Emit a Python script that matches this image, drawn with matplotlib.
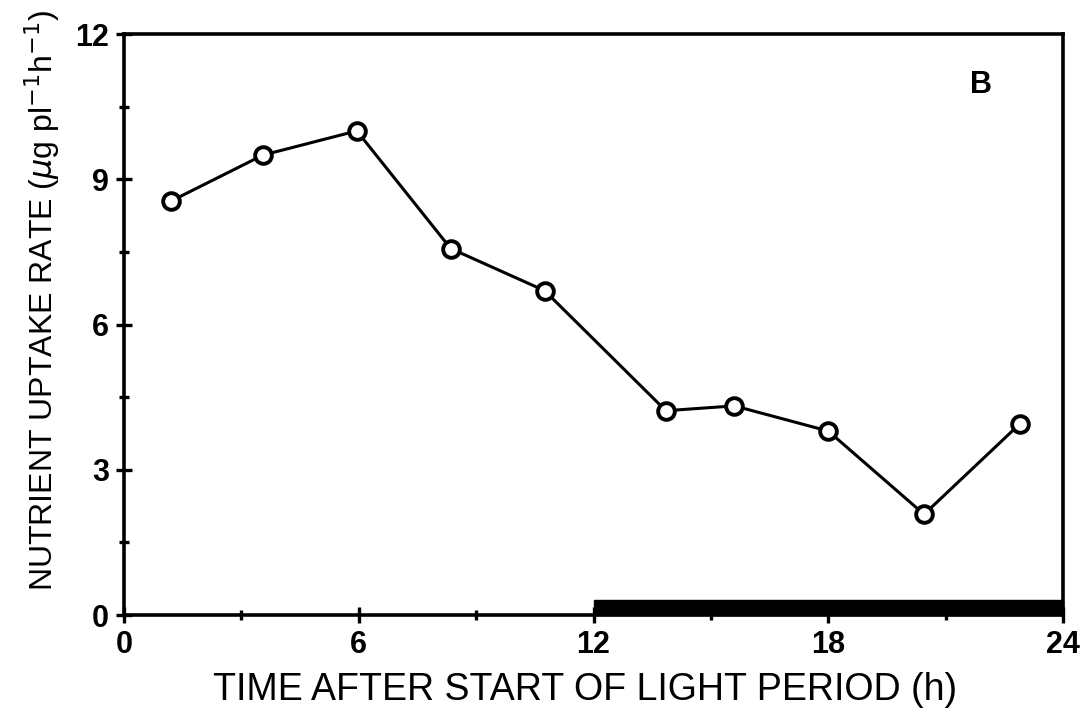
import matplotlib
matplotlib.use("Agg")
import matplotlib.pyplot as plt
from matplotlib.patches import Rectangle

# Sampling times (h after start of light period) and uptake rates
time_h = [1.2, 3.55, 5.95, 8.35, 10.75, 13.85, 15.6, 18.0, 20.45, 22.9]
uptake = [8.55, 9.5, 10.0, 7.57, 6.7, 4.22, 4.32, 3.8, 2.08, 3.95]

x_ticks = [0, 6, 12, 18, 24]
y_ticks = [0, 3, 6, 9, 12]
dark_start, dark_end = 12, 24
panel_label = "B"

plt.rcParams['font.family'] = ['Liberation Sans', 'DejaVu Sans']

fig = plt.figure(figsize=(10.91, 7.25), dpi=100)
ax = fig.add_axes([0.1137, 0.1517, 0.8606, 0.8013])

ax.plot(time_h, uptake, color='black', linewidth=2.2, marker='o', markersize=12,
        markerfacecolor='white', markeredgecolor='black', markeredgewidth=2.8,
        zorder=3, clip_on=False)

# Dark period bar along the time axis
ax.add_patch(Rectangle((dark_start, 0), dark_end - dark_start, 0.3,
                       facecolor='black', edgecolor='black', zorder=4, clip_on=False))

ax.set_xlim(0, 24)
ax.set_ylim(0, 12)
ax.set_xticks(x_ticks)
ax.set_yticks(y_ticks)
ax.set_xticks([3, 9, 15, 21], minor=True)
ax.set_yticks([1.5, 4.5, 7.5, 10.5], minor=True)

for s in ax.spines.values():
    s.set_linewidth(2.6)

ax.tick_params(axis='both', which='major', direction='inout', length=12, width=2.4,
               labelsize=22, pad=5)
ax.tick_params(axis='both', which='minor', direction='inout', length=7, width=2.4)
for lab in ax.get_xticklabels() + ax.get_yticklabels():
    lab.set_fontweight('bold')

ax.set_xlabel("TIME AFTER START OF LIGHT PERIOD (h)", fontsize=27)
ax.set_ylabel(r"NUTRIENT UPTAKE RATE ($\mu$g pl$^{-1}$h$^{-1}$)", fontsize=23)
ax.xaxis.set_label_coords(0.491, -0.098)
ax.yaxis.set_label_coords(-0.066, 0.542)

ax.text(21.9, 10.95, panel_label, fontsize=22, fontweight='bold', ha='center', va='center')

fig.savefig("out.png", dpi=100)
